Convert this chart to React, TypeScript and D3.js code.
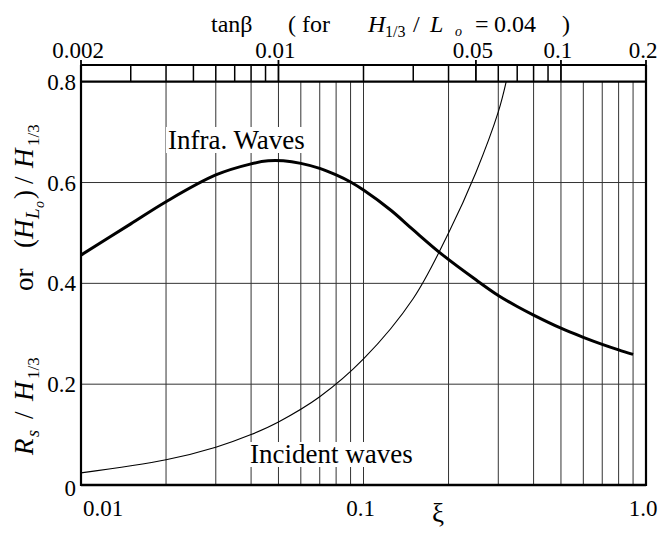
import React from "react";
import * as d3 from "d3";

// ---- data ----
const infraXi = [0.01, 0.015, 0.02, 0.03, 0.04, 0.046, 0.052, 0.06, 0.07, 0.08, 0.09, 0.1, 0.125, 0.15, 0.19, 0.25, 0.3, 0.35, 0.4, 0.5, 0.6, 0.7, 0.8, 0.9];
const infraVal = [0.456, 0.518, 0.562, 0.615, 0.637, 0.643, 0.643, 0.638, 0.628, 0.615, 0.601, 0.585, 0.545, 0.506, 0.457, 0.407, 0.376, 0.354, 0.337, 0.311, 0.293, 0.279, 0.268, 0.259];
const incidentXi = [0.01, 0.02, 0.03, 0.04, 0.05, 0.07, 0.1, 0.15, 0.2, 0.25, 0.3, 0.32];
const incidentVal = [0.024, 0.05, 0.075, 0.1, 0.125, 0.175, 0.25, 0.37, 0.5, 0.62, 0.74, 0.8];
const xiGrid = [0.02, 0.03, 0.04, 0.05, 0.06, 0.07, 0.08, 0.09, 0.1, 0.2, 0.3, 0.4, 0.5, 0.6, 0.7, 0.8, 0.9];
const xiLabels = ["0.01", "0.1", "1.0"];
const xiLabelVals = [0.01, 0.1, 1];
const tanMinor = [0.003, 0.004, 0.005, 0.006, 0.007, 0.008, 0.009, 0.02, 0.03, 0.04, 0.06, 0.07, 0.08, 0.09];
const tanMajor = [0.002, 0.01, 0.05, 0.1, 0.2];
const tanLabels = ["0.002", "0.01", "0.05", "0.1", "0.2"];
const yTicks = [0, 0.2, 0.4, 0.6, 0.8];
const yLabels = ["0", "0.2", "0.4", "0.6", "0.8"];

const FONT = "'Liberation Serif', 'Times New Roman', serif";

export default function App() {
  const L = 81, R = 646, B = 485, T = 81.7, BAND = 65;
  const x = d3.scaleLog().domain([0.01, 1]).range([L, R]);
  const xt = d3.scaleLog().domain([0.002, 0.2]).range([L, R]);
  const y = d3.scaleLinear().domain([0, 0.8]).range([B, T]);

  const line = d3
    .line<[number, number]>()
    .x((d) => x(d[0]))
    .y((d) => y(d[1]))
    .curve(d3.curveCatmullRom.alpha(0.5));

  const infraPath = line(infraXi.map((v, i) => [v, infraVal[i]] as [number, number])) || "";
  const incPath = line(incidentXi.map((v, i) => [v, incidentVal[i]] as [number, number])) || "";

  const gridColor = "#333";
  const ts = { fontFamily: FONT };

  return (
    <svg
      width={660}
      height={535}
      style={{ position: "absolute", left: 0, top: 0, background: "#fff", fontFamily: FONT }}
    >
      <rect x={0} y={0} width={660} height={535} fill="#fff" />
      {/* horizontal grid */}
      {yTicks.slice(1, 4).map((t) => (
        <line key={"h" + t} x1={L} x2={R} y1={y(t)} y2={y(t)} stroke={gridColor} strokeWidth={1} />
      ))}
      {/* vertical grid */}
      {xiGrid.map((g) => (
        <line key={"v" + g} x1={x(g)} x2={x(g)} y1={T} y2={B} stroke={gridColor} strokeWidth={1} />
      ))}
      {/* top band ticks */}
      {tanMinor.map((t) => (
        <line key={"tm" + t} x1={xt(t)} x2={xt(t)} y1={BAND} y2={T} stroke="#000" strokeWidth={1.5} />
      ))}
      {tanMajor.map((t) => (
        <line key={"tM" + t} x1={xt(t)} x2={xt(t)} y1={BAND - 5} y2={T} stroke="#000" strokeWidth={1.8} />
      ))}
      {tanMajor.map((t, i) => (
        <text key={"tl" + t} style={ts} x={xt(t) - 3} y={58} fontSize={23} textAnchor="middle" fill="#000">
          {tanLabels[i]}
        </text>
      ))}

      {/* label masks */}
      <rect x={166} y={127} width={146} height={26} fill="#fff" />
      <rect x={248} y={442} width={168} height={25} fill="#fff" />

      {/* curves */}
      <path d={incPath} fill="none" stroke="#000" strokeWidth={1.1} />
      <path d={infraPath} fill="none" stroke="#000" strokeWidth={3} />

      {/* frame */}
      <line x1={L} x2={R} y1={BAND} y2={BAND} stroke="#000" strokeWidth={2} />
      <line x1={L} x2={R} y1={T} y2={T} stroke="#000" strokeWidth={2.2} />
      <line x1={L} x2={R} y1={B} y2={B} stroke="#000" strokeWidth={2.5} />
      <line x1={L} x2={L} y1={BAND} y2={B + 1} stroke="#000" strokeWidth={2.2} />
      <line x1={R} x2={R} y1={BAND} y2={B + 1} stroke="#000" strokeWidth={2.2} />

      {/* y tick labels */}
      {yTicks.map((t, i) => (
        <text key={"yl" + t} style={ts} x={76} y={y(t) + 8 + (t === 0 ? 3 : 0)} fontSize={23} textAnchor="end" fill="#000">
          {yLabels[i]}
        </text>
      ))}
      {/* x tick labels */}
      {xiLabelVals.map((v, i) => (
        <text
          key={"xl" + v}
          style={ts}
          x={i === 0 ? x(v) + 2 : x(v) - 3}
          y={516}
          fontSize={23}
          textAnchor={i === 0 ? "start" : "middle"}
          fill="#000"
        >
          {xiLabels[i]}
        </text>
      ))}
      <text style={ts} x={438} y={522} fontSize={27} textAnchor="middle" fill="#000">ξ</text>

      {/* curve labels */}
      <text style={ts} x={168} y={149} fontSize={27} fill="#000">Infra. Waves</text>
      <text style={ts} x={250} y={463} fontSize={27} fill="#000">Incident waves</text>

      {/* top title */}
      <g fontSize={24} fill="#000" style={ts}>
        <text x={211} y={32}>tanβ</text>
        <text x={288} y={32}>( for</text>
        <text x={368} y={32} fontStyle="italic">H</text>
        <text x={385} y={37} fontSize={16}>1/3</text>
        <text x={413} y={32}>/</text>
        <text x={430} y={32} fontStyle="italic">L</text>
        <text x={455} y={36} fontSize={14} fontStyle="italic">o</text>
        <text x={475} y={32}>=</text>
        <text x={494} y={32}>0.04</text>
        <text x={562} y={32}>)</text>
      </g>

      {/* y axis title (rotated) */}
      <g transform="translate(33,0) rotate(-90)" fill="#000" fontSize={27} style={ts}>
        <text x={-455} y={0} fontStyle="italic">R</text>
        <text x={-437} y={6} fontSize={18} fontStyle="italic">s</text>
        <text x={-419} y={0}>/</text>
        <text x={-401} y={0} fontStyle="italic">H</text>
        <text x={-379} y={6} fontSize={17}>1/3</text>
        <text x={-291} y={0}>or</text>
        <text x={-248} y={0}>(</text>
        <text x={-239} y={0} fontStyle="italic">H</text>
        <text x={-219} y={6} fontSize={19} fontStyle="italic">L</text>
        <text x={-208} y={11} fontSize={14} fontStyle="italic">o</text>
        <text x={-199} y={0}>)</text>
        <text x={-184} y={0}>/</text>
        <text x={-168} y={0} fontStyle="italic">H</text>
        <text x={-146} y={6} fontSize={17}>1/3</text>
      </g>
    </svg>
  );
}
